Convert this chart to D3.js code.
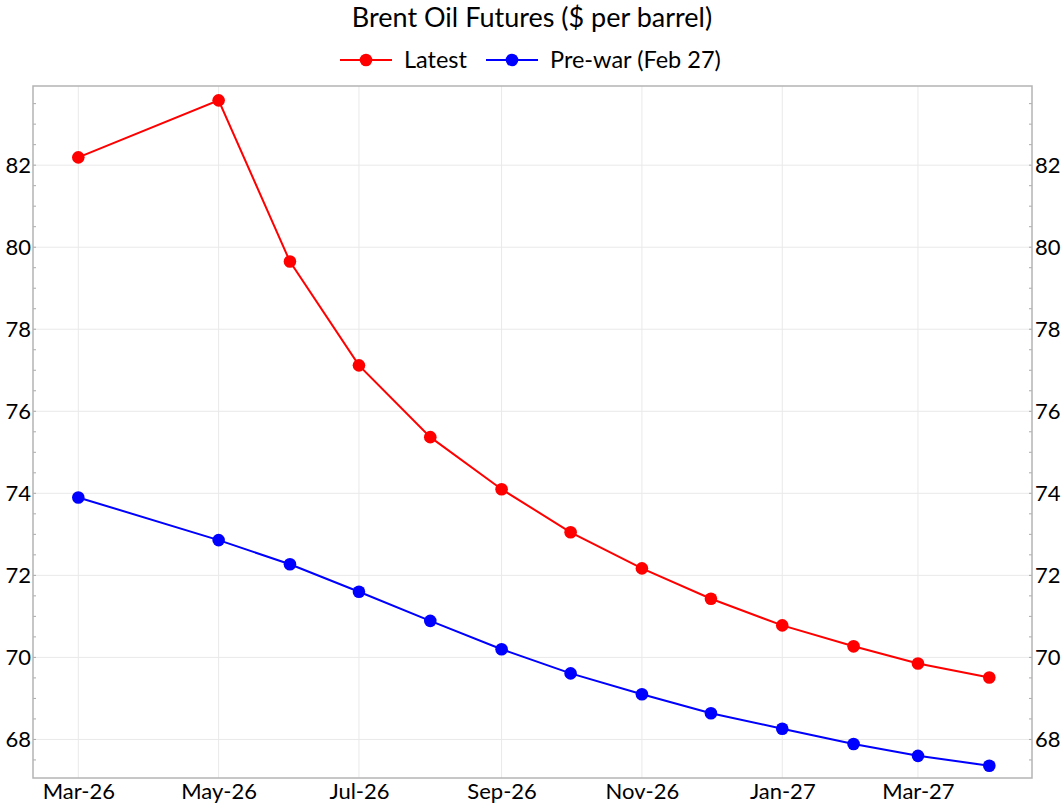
<!DOCTYPE html>
<html>
<head>
<meta charset="utf-8">
<script src="https://cdn.jsdelivr.net/npm/d3@7"></script>
<style>
  html, body { margin: 0; padding: 0; background: #fff; }
  svg { display: block; font-family: "Lato", "Open Sans", sans-serif; }
</style>
</head>
<body>
<svg id="chart" width="1061" height="807"></svg>
<script>
// ---- data ----
const months = ["2026-03-01","2026-05-01","2026-06-01","2026-07-01","2026-08-01","2026-09-01",
                "2026-10-01","2026-11-01","2026-12-01","2027-01-01","2027-02-01","2027-03-01","2027-04-01"];
const latest = [82.19, 83.58, 79.65, 77.12, 75.37, 74.10, 73.05, 72.17, 71.43, 70.78, 70.27, 69.85, 69.51];
const prewar = [73.90, 72.86, 72.27, 71.60, 70.89, 70.20, 69.61, 69.10, 68.64, 68.26, 67.89, 67.60, 67.36];
const xTickLabels = ["Mar-26","May-26","Jul-26","Sep-26","Nov-26","Jan-27","Mar-27"];
const xTickDates = ["2026-03-01","2026-05-01","2026-07-01","2026-09-01","2026-11-01","2027-01-01","2027-03-01"];
const yTicks = [68, 70, 72, 74, 76, 78, 80, 82];
const seriesNames = ["Latest", "Pre-war (Feb 27)"];
const seriesColors = ["#ff0000", "#0000ff"];

// ---- layout ----
const svg = d3.select("#chart");
const L = 33, R = 1032, T = 86, B = 778;
const parse = d3.utcParse("%Y-%m-%d");
const dates = months.map(parse);

const x = d3.scaleUtc()
  .domain([dates[0], dates[dates.length - 1]])
  .range([L + 45.3, R - 42.7]);
const y = d3.scaleLinear().domain([67.06, 83.93]).range([B, T]);

// grid
const grid = svg.append("g");
grid.selectAll("line.h").data(yTicks).join("line")
  .attr("x1", L).attr("x2", R)
  .attr("y1", d => y(d)).attr("y2", d => y(d))
  .attr("stroke", "#e9e9e9").attr("stroke-width", 1);
grid.selectAll("line.v").data(xTickDates.map(parse)).join("line")
  .attr("x1", d => x(d)).attr("x2", d => x(d))
  .attr("y1", T).attr("y2", B)
  .attr("stroke", "#e9e9e9").attr("stroke-width", 1);

// minor ticks inside on both y sides
const minor = d3.range(67.5, 84, 0.5);
const tk = svg.append("g");
tk.selectAll("line.l").data(minor).join("line")
  .attr("x1", L).attr("x2", L + 3)
  .attr("y1", d => y(d)).attr("y2", d => y(d))
  .attr("stroke", "#aaa").attr("stroke-width", 1);
tk.selectAll("line.r").data(minor).join("line")
  .attr("x1", R - 3).attr("x2", R)
  .attr("y1", d => y(d)).attr("y2", d => y(d))
  .attr("stroke", "#aaa").attr("stroke-width", 1);

// frame
svg.append("rect")
  .attr("x", L).attr("y", T).attr("width", R - L).attr("height", B - T)
  .attr("fill", "none").attr("stroke", "#b4b4b4").attr("stroke-width", 1.5);

// axes labels via d3 axes
const axFont = "22px";
const yl = svg.append("g").attr("transform", `translate(${L},0)`)
  .call(d3.axisLeft(y).tickValues(yTicks).tickSize(0).tickPadding(2).tickFormat(d3.format("d")));
const yr = svg.append("g").attr("transform", `translate(${R},0)`)
  .call(d3.axisRight(y).tickValues(yTicks).tickSize(0).tickPadding(3).tickFormat(d3.format("d")));
const xb = svg.append("g").attr("transform", `translate(0,${B})`)
  .call(d3.axisBottom(x).tickValues(xTickDates.map(parse)).tickSize(0).tickPadding(5)
    .tickFormat((d, i) => xTickLabels[i]));
[yl, yr, xb].forEach(g => {
  g.select(".domain").remove();
  g.selectAll("text").attr("font-size", axFont).attr("fill", "#000")
    .attr("font-family", "Lato, 'Open Sans', sans-serif");
});

// series
const seriesData = [latest, prewar];
const line = d3.line().x((d, i) => x(dates[i])).y(d => y(d));
seriesData.forEach((vals, si) => {
  const g = svg.append("g");
  g.append("path").datum(vals)
    .attr("d", line).attr("fill", "none")
    .attr("stroke", seriesColors[si]).attr("stroke-width", 2);
  g.selectAll("circle").data(vals).join("circle")
    .attr("cx", (d, i) => x(dates[i])).attr("cy", d => y(d))
    .attr("r", 6.3).attr("fill", seriesColors[si]);
});

// title
svg.append("text").attr("x", 532).attr("y", 27)
  .attr("text-anchor", "middle").attr("font-size", "27px").attr("fill", "#000")
  .text("Brent Oil Futures ($ per barrel)");

// legend
const leg = svg.append("g");
const legX = [340, 486];
seriesNames.forEach((name, i) => {
  const lx = legX[i], ly = 60;
  leg.append("line").attr("x1", lx).attr("x2", lx + 52).attr("y1", ly).attr("y2", ly)
    .attr("stroke", seriesColors[i]).attr("stroke-width", 2);
  leg.append("circle").attr("cx", lx + 26).attr("cy", ly).attr("r", 6.3).attr("fill", seriesColors[i]);
  leg.append("text").attr("x", lx + 64).attr("y", ly + 8)
    .attr("font-size", "23.5px").attr("fill", "#000").text(name);
});
</script>
</body>
</html>
